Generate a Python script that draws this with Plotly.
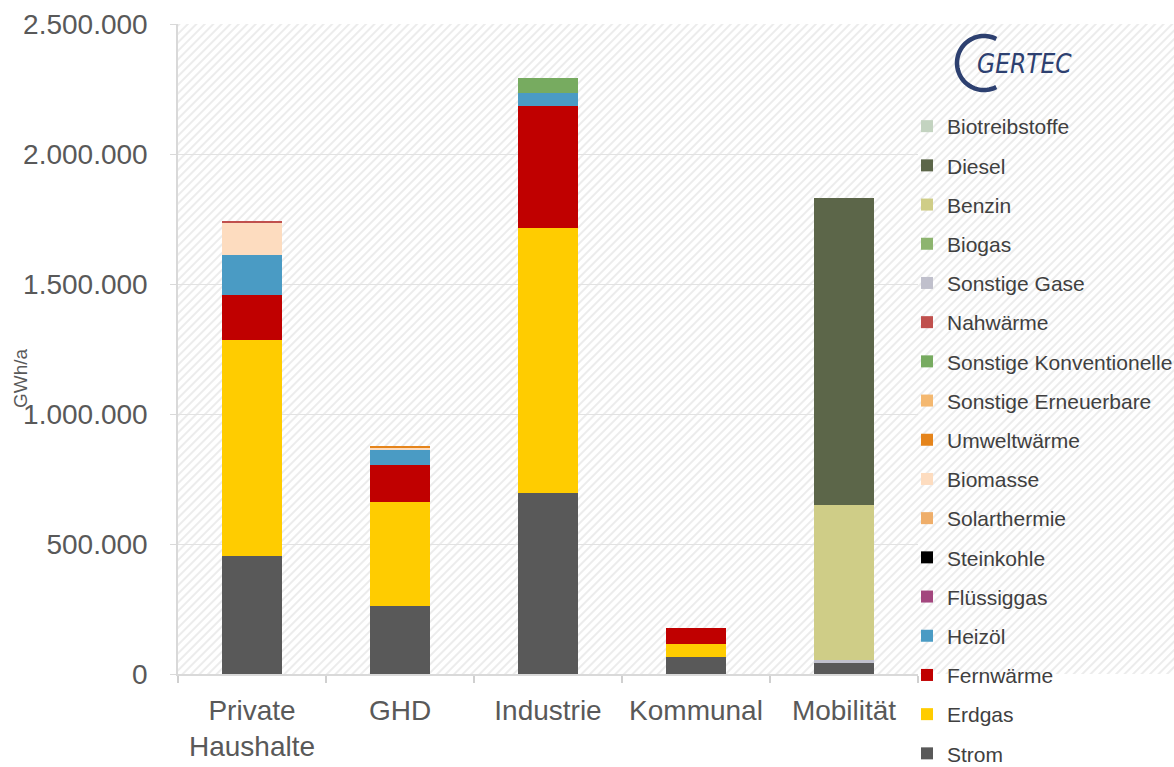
import base64
import numpy as np
import plotly.graph_objects as go

# Endenergieverbrauch nach Sektoren und Energieträgern (GWh/a)
categories = ["Private<br>Haushalte", "GHD", "Industrie", "Kommunal", "Mobilität"]

strom = [454000, 262000, 696000, 65000, 42000]
erdgas = [831000, 400000, 1019000, 50000, 0]
fernwaerme = [173000, 143000, 470000, 62000, 0]
heizoel = [153000, 58000, 50000, 0, 0]
fluessiggas = [0, 0, 0, 0, 0]
steinkohle = [0, 0, 0, 0, 0]
solarthermie = [0, 0, 0, 0, 0]
biomasse = [124000, 10000, 0, 0, 0]
umweltwaerme = [0, 4000, 0, 0, 0]
sonstige_erneuerbare = [0, 0, 0, 0, 0]
sonstige_konventionelle = [0, 0, 57000, 0, 0]
nahwaerme = [8000, 0, 0, 0, 0]
sonstige_gase = [0, 0, 0, 0, 12000]
biogas = [0, 0, 0, 0, 0]
benzin = [0, 0, 0, 0, 596000]
diesel = [0, 0, 0, 0, 1181000]
biotreibstoffe = [0, 0, 0, 0, 0]

y_ticks = [0, 500000, 1000000, 1500000, 2000000, 2500000]

# stacking order, bottom to top
series = [
    ("Strom", strom, "#595959"),
    ("Erdgas", erdgas, "#ffcc00"),
    ("Fernwärme", fernwaerme, "#c00000"),
    ("Heizöl", heizoel, "#4a9bc4"),
    ("Flüssiggas", fluessiggas, "#a3467e"),
    ("Steinkohle", steinkohle, "#000000"),
    ("Solarthermie", solarthermie, "#efae6a"),
    ("Biomasse", biomasse, "#fddcbf"),
    ("Umweltwärme", umweltwaerme, "#e5841b"),
    ("Sonstige Erneuerbare", sonstige_erneuerbare, "#f4b870"),
    ("Sonstige Konventionelle", sonstige_konventionelle, "#77ab60"),
    ("Nahwärme", nahwaerme, "#c0504d"),
    ("Sonstige Gase", sonstige_gase, "#c0c0cc"),
    ("Biogas", biogas, "#8db46f"),
    ("Benzin", benzin, "#cfcd87"),
    ("Diesel", diesel, "#5c6649"),
    ("Biotreibstoffe", biotreibstoffe, "#c3d3c0"),
]

W, H = 1174, 767
PLOT_L, PLOT_R, PLOT_T, PLOT_B = 178, 918, 24, 674
PW, PH = PLOT_R - PLOT_L, PLOT_B - PLOT_T

FONT = "Liberation Sans, Arial, sans-serif"
TEXT_GREY = "#595959"

fig = go.Figure()
n = len(series)
for i, (name, vals, color) in enumerate(series):
    fig.add_trace(go.Bar(
        name=name, x=categories, y=vals, legendgroup=name,
        legendrank=n - i,  # top of the stack listed first
        marker=dict(color=color, line=dict(width=0)),
    ))

# hatched background (diagonal light stripes)
hatch_svg = (
    "<svg xmlns='http://www.w3.org/2000/svg' width='996' height='650'>"
    "<defs><pattern id='h' width='6' height='6' patternUnits='userSpaceOnUse' "
    "patternTransform='rotate(45)'><rect width='6' height='6' fill='white'/>"
    "<line x1='1' y1='0' x2='1' y2='6' stroke='#ececec' stroke-width='2'/>"
    "</pattern></defs><rect width='100%' height='100%' fill='url(#h)'/></svg>"
)
hatch_src = "data:image/svg+xml;base64," + base64.b64encode(hatch_svg.encode()).decode()


def px_x(X):
    return (X - PLOT_L) / PW


def px_y(Y):
    return (PLOT_B - Y) / PH


# GERTEC logo: open "C" arc plus lettering
cx, cy, r = 984, 63, 27
angles = np.radians(np.linspace(63, 297, 60))
pts = [(px_x(cx + r * np.cos(a)), px_y(cy - r * np.sin(a))) for a in angles]
arc_path = "M " + " L ".join(f"{x:.5f},{y:.5f}" for x, y in pts)

fig.update_layout(
    width=W, height=H,
    margin=dict(l=PLOT_L, r=W - PLOT_R, t=PLOT_T, b=H - PLOT_B, pad=0, autoexpand=False),
    paper_bgcolor="white",
    plot_bgcolor="rgba(0,0,0,0)",
    barmode="stack",
    bargap=0.6,
    separators=",.",
    font=dict(family=FONT, color=TEXT_GREY),
    images=[dict(
        source=hatch_src, xref="paper", yref="paper",
        x=0, y=1, sizex=(W - PLOT_L) / PW, sizey=1,
        xanchor="left", yanchor="top", sizing="stretch", layer="below",
    )],
    xaxis=dict(
        showline=True, linecolor="#d9d9d9", linewidth=2,
        ticks="outside", tickson="boundaries", ticklen=7, tickcolor="#d0d0d0", tickwidth=1.5,
        ticklabelstandoff=10,
        tickfont=dict(size=28, color=TEXT_GREY, family=FONT),
        showgrid=False, automargin=False,
    ),
    yaxis=dict(
        range=[0, 2500000], tickvals=y_ticks, tickformat=",d",
        showline=True, linecolor="#d9d9d9", linewidth=1.5,
        ticks="outside", ticklen=6, tickcolor="#d9d9d9",
        ticklabelstandoff=17, automargin=False,
        tickfont=dict(size=28, color=TEXT_GREY, family=FONT),
        showgrid=True, gridcolor="#e2e2e2", gridwidth=1, zeroline=False,
    ),
    legend=dict(
        xref="container", yref="container",
        x=907 / W, y=1 - 106 / H, xanchor="left", yanchor="top",
        traceorder="grouped", tracegroupgap=8.9, maxheight=700,
        font=dict(size=21, color="#404040", family=FONT),
        bgcolor="rgba(0,0,0,0)", itemwidth=30,
    ),
    shapes=[dict(
        type="path", path=arc_path, xref="paper", yref="paper",
        line=dict(color="#2d4070", width=4.5),
    )],
    annotations=[
        dict(
            text="GWh/a", textangle=-90, xref="paper", yref="paper",
            x=px_x(20), y=px_y(378), xanchor="center", yanchor="middle",
            showarrow=False, font=dict(size=19, color=TEXT_GREY, family=FONT),
        ),
        dict(
            text="<i>GERTEC</i>", xref="paper", yref="paper",
            x=px_x(975), y=px_y(64), xanchor="left", yanchor="middle",
            showarrow=False,
            font=dict(size=26, color="#2d4070",
                      family="Liberation Sans Narrow, DejaVu Sans Condensed, sans-serif"),
        ),
    ],
)

fig.write_html("out.html")
